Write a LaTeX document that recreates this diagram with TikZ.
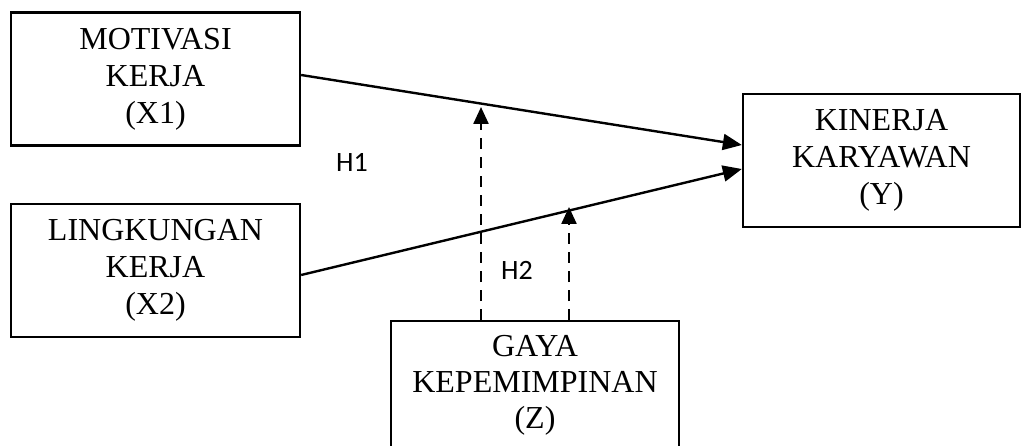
\documentclass[tikz,border=0pt]{standalone}
\usepackage{fontspec}
\setmainfont{Liberation Serif}
\newfontfamily\hfont{Carlito}
\usetikzlibrary{arrows.meta}
\begin{document}
\begin{tikzpicture}[x=1pt,y=-1pt,
  box/.style={draw,line width=2.3pt,align=center,inner sep=0pt,
    font=\fontsize{32}{37}\selectfont},
  conn/.style={line width=2.4pt,-{Triangle[length=19pt,width=16pt]}},
  dconn/.style={line width=2.4pt,dash pattern=on 11pt off 8pt,-{Triangle[length=17pt,width=15pt]}},
  hlab/.style={font=\hfont\fontsize{28}{32}\selectfont,inner sep=0pt}]
\useasboundingbox (0,0) rectangle (1022,446);
\node[box,minimum width=289pt,minimum height=133pt] (X1) at (155.5,79) {MOTIVASI\\KERJA\\(X1)};
\node[box,minimum width=289pt,minimum height=133pt] (X2) at (155.5,270.5) {LINGKUNGAN\\KERJA\\(X2)};
\node[box,minimum width=277pt,minimum height=133pt] (Y) at (881.5,160.5) {KINERJA\\KARYAWAN\\(Y)};
\node[box,minimum width=288pt,minimum height=140pt,anchor=north] (Z) at (535,320) {};
\node[font=\fontsize{32}{36}\selectfont,align=center,inner sep=0pt] (Zt) at (535,385) {GAYA\\KEPEMIMPINAN\\(Z)};
\coordinate (t1) at (481,107);
\coordinate (t2) at (569,207);
\draw[conn] ([yshift=4pt]X1.east) -- ([yshift=15.5pt]Y.west);
\draw[conn] ([yshift=-4.5pt]X2.east) -- ([yshift=-8.5pt]Y.west);
\draw[dconn] ([xshift=-54pt]Z.north) -- (t1);
\draw[dconn] ([xshift=34pt]Z.north) -- (t2);
\node[hlab] (H1) at (352,162) {H1};
\node[hlab] (H2) at (517,270) {H2};
\end{tikzpicture}
\end{document}
